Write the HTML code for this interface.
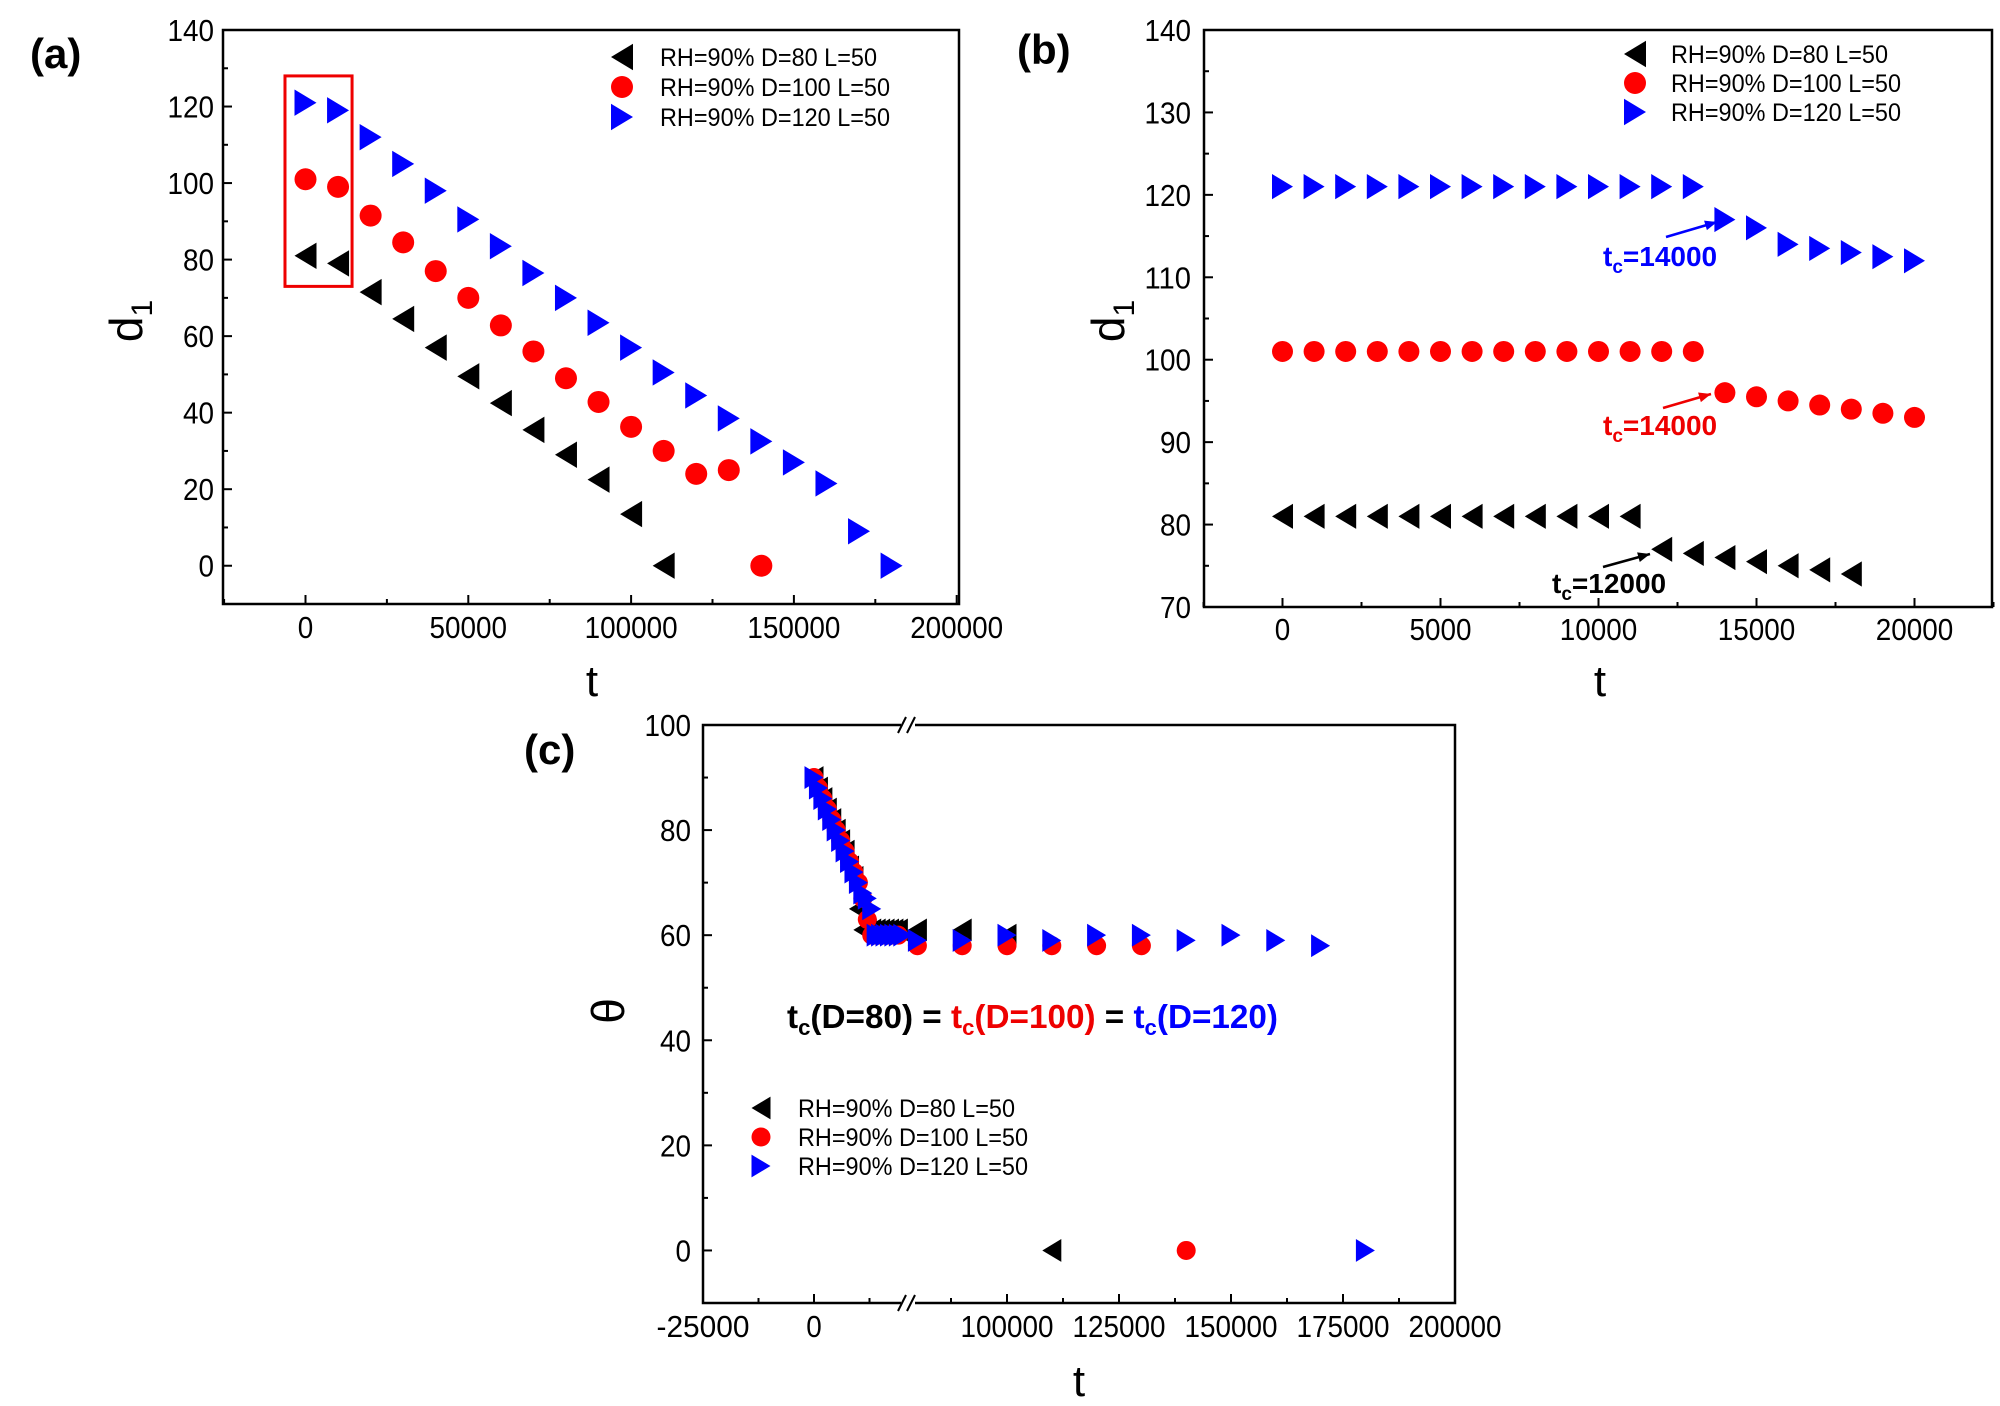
<!DOCTYPE html>
<html><head><meta charset="utf-8"><style>
html,body{margin:0;padding:0;background:#fff}
svg{display:block}
text{font-family:"Liberation Sans",Arial,sans-serif}
</style></head><body>
<svg id="fig" width="2000" height="1406" viewBox="0 0 2000 1406" xmlns="http://www.w3.org/2000/svg"></svg>
<script>
// ---- Panel (a) data ----
const aBlackT=[0,10000,20000,30000,40000,50000,60000,70000,80000,90000,100000,110000];
const aBlackV=[81,79,71.5,64.5,57,49.5,42.5,35.5,29,22.5,13.5,0];
const aRedT=[0,10000,20000,30000,40000,50000,60000,70000,80000,90000,100000,110000,120000,130000,140000];
const aRedV=[101,99,91.5,84.5,77,70,62.8,56,49,42.8,36.3,30,24,25,0];
const aBlueT=[0,10000,20000,30000,40000,50000,60000,70000,80000,90000,100000,110000,120000,130000,140000,150000,160000,170000,180000];
const aBlueV=[121,119,112,105,98,90.5,83.5,76.5,70,63.5,57,50.5,44.5,38.5,32.5,27,21.5,9,0];
const aXTicks=[0,50000,100000,150000,200000];
const aYTicks=[0,20,40,60,80,100,120,140];
// ---- Panel (b) data ----
const bBlackT=[0,1000,2000,3000,4000,5000,6000,7000,8000,9000,10000,11000,12000,13000,14000,15000,16000,17000,18000];
const bBlackV=[81,81,81,81,81,81,81,81,81,81,81,81,77,76.5,76,75.5,75,74.5,74];
const bRedT=[0,1000,2000,3000,4000,5000,6000,7000,8000,9000,10000,11000,12000,13000,14000,15000,16000,17000,18000,19000,20000];
const bRedV=[101,101,101,101,101,101,101,101,101,101,101,101,101,101,96,95.5,95,94.5,94,93.5,93];
const bBlueT=[0,1000,2000,3000,4000,5000,6000,7000,8000,9000,10000,11000,12000,13000,14000,15000,16000,17000,18000,19000,20000];
const bBlueV=[121,121,121,121,121,121,121,121,121,121,121,121,121,121,117,116,114,113.5,113,112.5,112];
const bXTicks=[0,5000,10000,15000,20000];
const bYTicks=[70,80,90,100,110,120,130,140];
// ---- Panel (c) data ----
const cBlackT=[0,1000,2000,3000,4000,5000,6000,7000,8000,9000,10000,11000,12000,13000,14000,15000,16000,17000,18000,19000,80000,90000,100000,110000];
const cBlackV=[90,88,86,84,82,80,78,76,73,71,65,61,61,61,61,61,61,61,61,61,61,61,60,0];
const cRedT=[0,1000,2000,3000,4000,5000,6000,7000,8000,9000,10000,11000,12000,13000,14000,15000,16000,17000,18000,19000,80000,90000,100000,110000,120000,130000,140000];
const cRedV=[90,88,86,84,82,80,78,76,74,72,70,67,63,60,60,60,60,60,60,60,58,58,58,58,58,58,0];
const cBlueT=[0,1000,2000,3000,4000,5000,6000,7000,8000,9000,10000,11000,12000,13000,14000,15000,16000,17000,18000,19000,20000,80000,90000,100000,110000,120000,130000,140000,150000,160000,170000,180000];
const cBlueV=[90,88,86,84,82,80,78,76,74,72,70,68,67,65,60,60,60,60,60,60,60,59,59,60,59,60,60,59,60,59,58,0];
const cXTicks=[-25000,0,100000,125000,150000,175000,200000];
const cYTicks=[0,20,40,60,80,100];

const NS="http://www.w3.org/2000/svg";
const svg=document.getElementById('fig');
function mk(tag,attrs,parent){const e=document.createElementNS(NS,tag);for(const k in attrs)e.setAttribute(k,attrs[k]);(parent||svg).appendChild(e);return e;}
function txt(s,x,y,size,anchor,parent,extra){const e=mk('text',Object.assign({x:x,y:y,'font-size':size,'text-anchor':anchor||'start'},extra||{}),parent);e.textContent=s;return e;}

function marker(g,kind,x,y,s){
  let e;
  if(kind==='left'){e=mk('polygon',{points:`${x-s*0.5},${y} ${x+s*0.5},${y-s*0.6} ${x+s*0.5},${y+s*0.6}`,fill:'#000'},g);}
  else if(kind==='circle'){e=mk('circle',{cx:x,cy:y,r:s*0.5,fill:'#f00'},g);}
  else {e=mk('polygon',{points:`${x+s*0.5},${y} ${x-s*0.5},${y-s*0.6} ${x-s*0.5},${y+s*0.6}`,fill:'#00f'},g);}
  return e;
}

function panel(o){
  const g=mk('g',{});
  
  
  const Y=v=>o.y0+(o.ymax-v)/(o.ymax-o.ymin)*(o.y1-o.y0);
  const X=o.X;
  o.series.forEach(s=>{
    const sg=mk('g',{},g);
    
    
    s.t.forEach((t,i)=>{
      const m=marker(sg,s.kind,X(t),Y(s.v[i]),o.ms);
      
      
    });
  });
  const fr=mk('rect',{x:o.x0,y:o.y0,width:o.x1-o.x0,height:o.y1-o.y0,fill:'none',stroke:'#000','stroke-width':2.5},g);
  
  
  const yax=mk('g',{},g);
  
  
  o.yTicks.forEach(v=>{
    const y=Y(v);
    mk('line',{x1:o.x0,x2:o.x0+9,y1:y,y2:y,stroke:'#000','stroke-width':2},yax);
    const s=String(v);
    const t=txt(s,o.ylabX,y+11,31,'end',yax,{textLength:s.length*15.5,lengthAdjust:'spacingAndGlyphs'});
    
    
  });
  for(let v=o.ymin;v<=o.ymax;v+=o.yminor){
    if(o.yTicks.indexOf(v)<0){const y=Y(v);mk('line',{x1:o.x0,x2:o.x0+5,y1:y,y2:y,stroke:'#000','stroke-width':2},yax);}
  }
  const xax=mk('g',{},g);
  
  
  o.xTicks.forEach(v=>{
    const x=X(v);
    mk('line',{x1:x,x2:x,y1:o.y1,y2:o.y1-9,stroke:'#000','stroke-width':2},xax);
    const s=String(v);
    const t=txt(s,x,o.xlabY,31,'middle',xax,{textLength:s.length*15.5,lengthAdjust:'spacingAndGlyphs'});
    
    
  });
  o.xMinor.forEach(v=>{const x=X(v);mk('line',{x1:x,x2:x,y1:o.y1,y2:o.y1-5,stroke:'#000','stroke-width':2},xax);});
  const xt=txt('t',o.xtX,o.xtY,44,'middle',g);
  
  
  const yt=mk('text',{x:0,y:0,'font-size':46,'text-anchor':'middle',transform:`translate(${o.ytX},${o.ytY}) rotate(-90)`},g);
  
  
  if(o.ytitle==='d'){yt.innerHTML='d<tspan font-size="30" dy="10">1</tspan>';}
  else yt.textContent=o.ytitle;
  const pl=txt(o.label,o.lx,o.ly,42,'start',g,{'font-weight':'bold'});
  
  
  const lg=mk('g',{},g);
  
  
  const names=['RH=90% D=80 L=50','RH=90% D=100 L=50','RH=90% D=120 L=50'];
  const lens=[217,230,230];
  const kinds=['left','circle','right'];
  names.forEach((n,i)=>{
    const ly=o.legY[i];
    const e=mk('g',{},lg);
    
    
    marker(e,kinds[i],o.legMX,ly,o.legMS);
    txt(n,o.legTX,ly+9,25,'start',e,{textLength:lens[i]*o.legScale,lengthAdjust:'spacingAndGlyphs'});
  });
  return {g,X,Y};
}

const pa=panel({name:'panel-a',x0:223,x1:959,y0:30,y1:604,ymin:-10,ymax:140,
  X:t=>305.5+t*162.8/50000,
  series:[{name:'series-d80',kind:'left',t:aBlackT,v:aBlackV},{name:'series-d100',kind:'circle',t:aRedT,v:aRedV},{name:'series-d120',kind:'right',t:aBlueT,v:aBlueV}],
  ms:22,yTicks:aYTicks,yminor:10,xTicks:aXTicks,xMinor:[-25000,25000,75000,125000,175000],
  ylabX:214,xlabY:638,xtX:592,xtY:696,ytX:142,ytY:321,ytitle:'d',label:'(a)',lx:30,ly:68,
  legY:[57,87,117],legMX:622,legMS:22,legTX:660,legScale:1});
const box=mk('rect',{x:pa.X(-6300),y:pa.Y(128),width:pa.X(14300)-pa.X(-6300),height:pa.Y(73)-pa.Y(128),fill:'none',stroke:'#e00','stroke-width':3});



const pb=panel({name:'panel-b',x0:1204,x1:1992,y0:30,y1:607,ymin:70,ymax:140,
  X:t=>1282.5+t*158/5000,
  series:[{name:'series-d80',kind:'left',t:bBlackT,v:bBlackV},{name:'series-d100',kind:'circle',t:bRedT,v:bRedV},{name:'series-d120',kind:'right',t:bBlueT,v:bBlueV}],
  ms:21,yTicks:bYTicks,yminor:5,xTicks:bXTicks,xMinor:[-2500,2500,7500,12500,17500,22500],
  ylabX:1191,xlabY:640,xtX:1600,xtY:696,ytX:1124,ytY:321,ytitle:'d',label:'(b)',lx:1017,ly:64,
  legY:[54,83,112],legMX:1635,legMS:22,legTX:1671,legScale:1});
function annot(text,color,tx,ty,ax1,ay1,ax2,ay2,name){
  const g=mk('g',{});
  
  
  mk('line',{x1:ax1,y1:ay1,x2:ax2,y2:ay2,stroke:color,'stroke-width':2.5},g);
  const ang=Math.atan2(ay2-ay1,ax2-ax1),L=12,W=5;
  const bx=ax2-L*Math.cos(ang),by=ay2-L*Math.sin(ang);
  mk('polygon',{points:`${ax2},${ay2} ${bx-W*Math.sin(ang)},${by+W*Math.cos(ang)} ${bx+W*Math.sin(ang)},${by-W*Math.cos(ang)}`,fill:color},g);
  const t=mk('text',{x:tx,y:ty,'font-size':28,'font-weight':'bold',fill:color},g);
  t.innerHTML='t<tspan font-size="19" dy="7">c</tspan><tspan dy="-7">='+text+'</tspan>';
}
annot('14000','#00f',1603,266,1666,237,1717,222,'annotation-tc-d120');
annot('14000','#e00',1603,435,1663,408,1711,394,'annotation-tc-d100');
annot('12000','#000',1552,593,1603,567,1650,554,'annotation-tc-d80');

const cX=t=> t<50000 ? 814+t*111/25000 : 1007+(t-100000)*112/25000;
const pc=panel({name:'panel-c',x0:703,x1:1455,y0:725,y1:1303,ymin:-10,ymax:100,
  X:cX,
  series:[{name:'series-d80',kind:'left',t:cBlackT,v:cBlackV},{name:'series-d100',kind:'circle',t:cRedT,v:cRedV},{name:'series-d120',kind:'right',t:cBlueT,v:cBlueV}],
  ms:19,yTicks:cYTicks,yminor:10,xTicks:cXTicks,xMinor:[-12500,12500,87500,112500,137500,162500,187500],
  ylabX:691,xlabY:1337,xtX:1079,xtY:1396,ytX:624,ytY:1011,ytitle:'θ',label:'(c)',lx:524,ly:764,
  legY:[1108,1137,1166],legMX:761,legMS:19,legTX:798,legScale:1});
['top','bottom'].forEach(p=>{
  const y=p==='top'?725:1303;
  const g=mk('g',{});
  
  
  mk('rect',{x:901,y:y-3,width:14,height:6,fill:'#fff'},g);
  mk('line',{x1:898,y1:y+8,x2:906,y2:y-8,stroke:'#000','stroke-width':2},g);
  mk('line',{x1:907,y1:y+8,x2:915,y2:y-8,stroke:'#000','stroke-width':2},g);
});
const eq=mk('text',{x:787,y:1028,'font-size':33,'font-weight':'bold',textLength:491,lengthAdjust:'spacingAndGlyphs'});


eq.innerHTML='<tspan fill="#000">t<tspan font-size="22" dy="7">c</tspan><tspan dy="-7">(D=80) = </tspan></tspan><tspan fill="#e00">t<tspan font-size="22" dy="7">c</tspan><tspan dy="-7">(D=100)</tspan></tspan><tspan fill="#000"> = </tspan><tspan fill="#00f">t<tspan font-size="22" dy="7">c</tspan><tspan dy="-7">(D=120)</tspan></tspan>';
</script>
</body></html>
